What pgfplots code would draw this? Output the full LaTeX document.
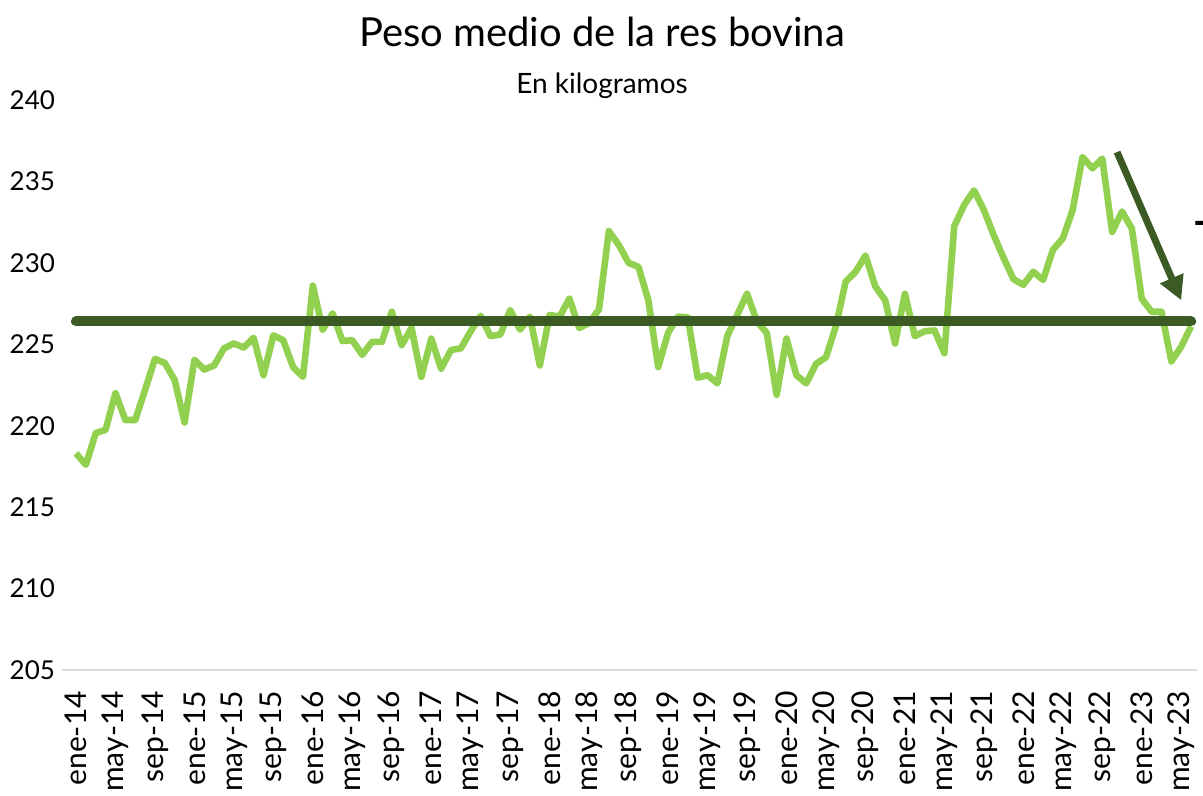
\documentclass[border=0pt]{standalone}
\usepackage{fontspec}
\setmainfont{Lato}
\usepackage{pgfplots}
\pgfplotsset{compat=1.18}
\usetikzlibrary{arrows.meta}
\definecolor{lightg}{HTML}{92D050}
\definecolor{darkg}{RGB}{60,90,35}
\pgfplotstableread{
i v
0 218.3
1 217.6
2 219.55
3 219.75
4 222.0
5 220.35
6 220.35
7 222.2
8 224.1
9 223.85
10 222.8
11 220.2
12 224.05
13 223.45
14 223.7
15 224.75
16 225.05
17 224.8
18 225.4
19 223.1
20 225.55
21 225.25
22 223.6
23 223.0
24 228.6
25 225.9
26 226.9
27 225.2
28 225.25
29 224.35
30 225.15
31 225.15
32 227.0
33 224.95
34 226.0
35 223.0
36 225.35
37 223.5
38 224.65
39 224.75
40 225.8
41 226.75
42 225.5
43 225.6
44 227.1
45 225.9
46 226.7
47 223.7
48 226.8
49 226.7
50 227.8
51 226.0
52 226.3
53 227.15
54 231.95
55 231.1
56 230.0
57 229.75
58 227.7
59 223.6
60 225.7
61 226.7
62 226.65
63 222.95
64 223.1
65 222.6
66 225.5
67 226.8
68 228.1
69 226.4
70 225.7
71 221.9
72 225.35
73 223.1
74 222.6
75 223.8
76 224.2
77 226.1
78 228.85
79 229.45
80 230.45
81 228.55
82 227.7
83 225.05
84 228.1
85 225.5
86 225.8
87 225.85
88 224.45
89 232.25
90 233.55
91 234.45
92 233.25
93 231.7
94 230.3
95 229.0
96 228.65
97 229.45
98 228.95
99 230.8
100 231.5
101 233.25
102 236.5
103 235.8
104 236.4
105 231.9
106 233.15
107 232.1
108 227.8
109 227.0
110 227.0
111 223.95
112 224.85
113 226.1
}\peso
\pgfplotstableread{
i v
0 226.4
113 226.4
}\promedio
\begin{document}
\begin{tikzpicture}
\useasboundingbox (-31pt,-63pt) rectangle (570.5pt,335pt);
\begin{axis}[
  at={(0,0)}, anchor=south west,
  scale only axis, width=567.5pt, height=285pt,
  xmin=-1.42, xmax=113.6, ymin=205, ymax=240,
  axis line style={draw=none},
  major tick length=0pt,
  ytick={205,210,...,240},
  xtick={0,4,...,112},
  xticklabels={ene-14,may-14,sep-14,ene-15,may-15,sep-15,ene-16,may-16,sep-16,ene-17,may-17,sep-17,ene-18,may-18,sep-18,ene-19,may-19,sep-19,ene-20,may-20,sep-20,ene-21,may-21,sep-21,ene-22,may-22,sep-22,ene-23,may-23},
  /pgf/number format/assume math mode=true,
  yticklabel style={font=\fontsize{13}{15}\selectfont, text=black},
  xticklabel style={font=\fontsize{15}{17}\selectfont, rotate=90, anchor=east},
  xticklabel shift=7pt,
  clip=false,
]
\draw[color={rgb,255:red,217;green,217;blue,217}, line width=1pt] (rel axis cs:0,0) -- (rel axis cs:1,0);
\addplot[lightg, line width=3.3pt, line join=round, no marks] table[x=i, y=v] {\peso};
\addplot[darkg, line width=5pt, line cap=round, no marks] table[x=i, y=v] {\promedio};
\draw[darkg, line width=3.5pt, -{Triangle[width=12pt,length=12pt]}] (axis cs:105.5,236.8) -- (axis cs:112.0,227.7);
\end{axis}
\node[anchor=base, font=\fontsize{20}{24}\selectfont] at (270pt,311.5pt) {Peso medio de la res bovina};
\node[anchor=base, font=\fontsize{14}{16}\selectfont] at (270pt,288pt) {En kilogramos};
\node[anchor=west, inner sep=0pt, font=\fontsize{20}{20}\selectfont\bfseries] at (565.5pt,221pt) {-};
\end{tikzpicture}
\end{document}
